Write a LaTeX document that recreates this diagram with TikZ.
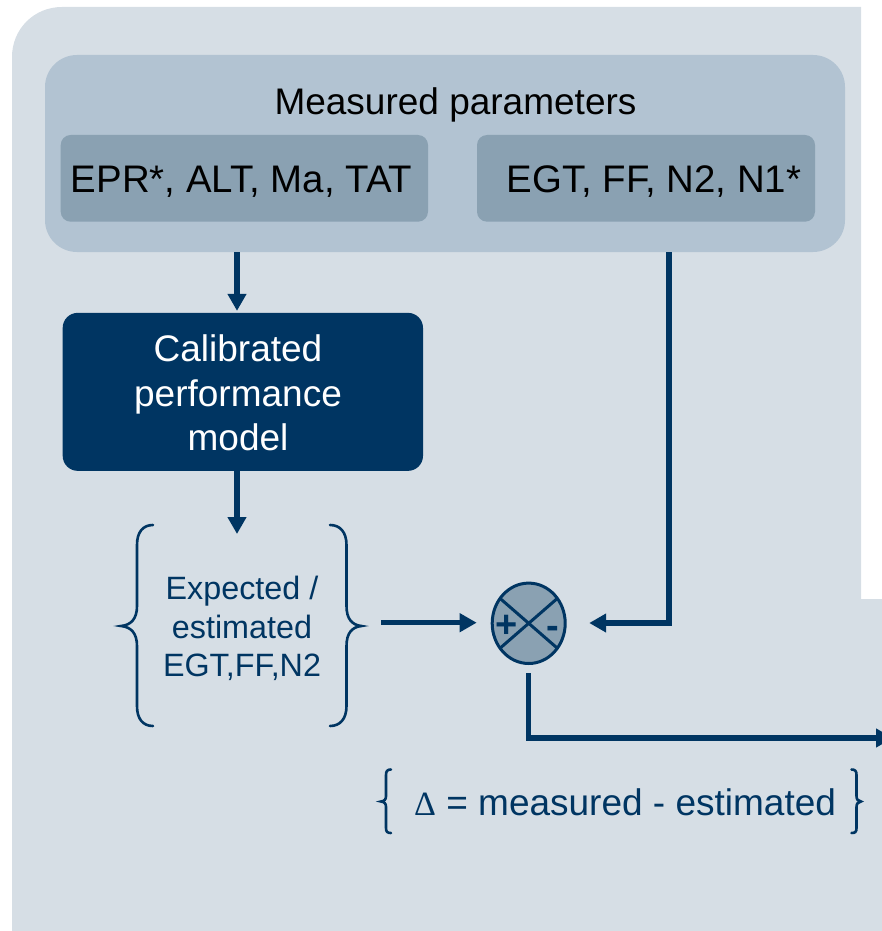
\documentclass[tikz,border=0pt]{standalone}
\usepackage{fontspec}
\setmainfont{Liberation Sans}
\newfontfamily\deltafont{Liberation Serif}
\usetikzlibrary{arrows.meta,shapes.geometric}

\definecolor{panelbg}{HTML}{D6DEE5}
\definecolor{outerbox}{HTML}{B2C3D2}
\definecolor{innerbox}{HTML}{8AA1B2}
\definecolor{navy}{HTML}{003562}

\tikzset{
  bigtext/.style={font=\fontsize{37}{44.5}\selectfont, inner sep=0pt},
  paramtext/.style={font=\fontsize{38.4}{44.5}\selectfont, inner sep=0pt},
  midtext/.style={font=\fontsize{32.3}{38.5}\selectfont, inner sep=0pt, text=navy},
  groupbox/.style={rectangle, fill=outerbox, rounded corners=32pt, inner sep=0pt, outer sep=0pt},
  parambox/.style={rectangle, fill=innerbox, rounded corners=10pt, inner sep=0pt, outer sep=0pt},
  modelbox/.style={rectangle, fill=navy, rounded corners=15pt, inner sep=0pt, outer sep=0pt},
  sumjunction/.style={ellipse, draw=navy, line width=3pt, fill=innerbox, inner sep=0pt, outer sep=0pt},
  signmark/.style={font=\fontsize{38}{40}\selectfont\bfseries, text=navy, inner sep=0pt},
  brace/.style={draw=navy, line width=2.6pt, line cap=round},
  flow/.style={draw=navy, line width=5.5pt, -{Triangle[width=18pt,length=17pt]}},
}

\begin{document}
\begin{tikzpicture}[x=1pt,y=-1pt]
  \useasboundingbox (0,0) rectangle (882,931);
  \clip (0,0) rectangle (882,931);

  % background panel with a step on the right side
  \fill[panelbg] (12,940) -- (12,57) .. controls (12,29) and (34,7) .. (62,7)
    -- (861,7) -- (861,599) -- (882,599) -- (882,940) -- cycle;

  % measured parameters group
  \node[groupbox, minimum width=800pt, minimum height=197pt] (meas) at (445,153.5) {};
  \node[parambox, minimum width=367.3pt, minimum height=86.7pt] (inL) at (244.35,178.35) {};
  \node[parambox, minimum width=338pt, minimum height=86.7pt] (inR) at (646,178.35) {};
  \node[bigtext, anchor=base] (measT) at (455.5,115) {Measured parameters};
  \node[paramtext, anchor=base] (inLT) at (241.5,192) {EPR*, ALT, Ma, TAT};
  \node[paramtext, anchor=base] (inRT) at (654,192) {EGT, FF, N2, N1*};

  % performance model
  \node[modelbox, minimum width=360.3pt, minimum height=158pt] (calib) at (242.85,391.85) {};
  \node[bigtext, text=white, align=center] (calibT) at (238,393) {Calibrated\\performance\\model};

  % expected values
  \node[midtext, align=center] (est) at (242,628.5) {Expected /\\estimated\\EGT,FF,N2};
  \draw[brace] (153,525) .. controls (143,525) and (137,532) .. (137,545) -- (137,606)
    .. controls (137,619) and (131,625) .. (121,626)
    .. controls (131,627) and (137,633) .. (137,646) -- (137,706)
    .. controls (137,719) and (143,726) .. (153,726);
  \draw[brace] (330,525) .. controls (340,525) and (346.5,532) .. (346.5,545) -- (346.5,606)
    .. controls (346.5,619) and (352,625) .. (361.5,626)
    .. controls (352,627) and (346.5,633) .. (346.5,646) -- (346.5,706)
    .. controls (346.5,719) and (340,726) .. (330,726);

  % summing junction
  \node[sumjunction, minimum width=73pt, minimum height=80.4pt] (junc) at (528.7,623.3) {};
  \draw[navy, line width=3pt] (junc.139) -- (junc.-41);
  \draw[navy, line width=3pt] (junc.41) -- (junc.221);
  \node[signmark] (plus) at (506.7,626.6) {+};
  \node[signmark] (minus) at (553,632) {-};

  % difference label
  \node[bigtext, text=navy, anchor=base west] (delta) at (414,815)
    {{\deltafont\fontsize{34}{40}\selectfont Δ} = measured - estimated};
  \draw[brace] (391,769.5) .. controls (387.5,769.5) and (386,771) .. (386,775) -- (386,796)
    .. controls (386,799.5) and (384.5,801) .. (381,801.5)
    .. controls (384.5,802) and (386,803.5) .. (386,807) -- (386,828)
    .. controls (386,832) and (387.5,833) .. (391,833);
  \draw[brace] (851.5,769.5) .. controls (855,769.5) and (856.5,771) .. (856.5,775) -- (856.5,796)
    .. controls (856.5,799.5) and (858,801) .. (861,801.5)
    .. controls (858,802) and (856.5,803.5) .. (856.5,807) -- (856.5,828)
    .. controls (856.5,832) and (855,833) .. (851.5,833);

  % connectors
  \coordinate (cx) at (237,0);
  \coordinate (esttip) at (237,534);
  \coordinate (ein) at (381,622.7);
  \coordinate (rc) at (669,623);
  \coordinate (out) at (893,738);

  \draw[flow, shorten >=2pt] (cx |- meas.south) -- (cx |- calib.north);
  \draw[flow] (cx |- calib.south) -- (esttip);
  \draw[flow, shorten >=15.5pt] (ein) -- (ein -| junc.west);
  \draw[flow, shorten >=24pt] (rc |- meas.south) -- (rc) -- (rc -| junc.east);
  \draw[flow, shorten <=9.5pt] (junc.south) -- (junc.south |- out) -- (out);
\end{tikzpicture}
\end{document}
